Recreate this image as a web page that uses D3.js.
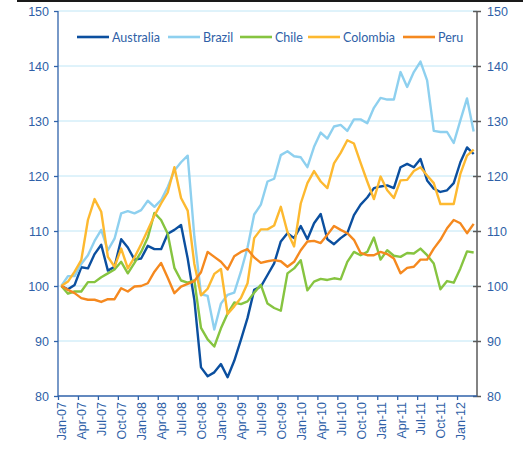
<!DOCTYPE html>
<meta charset="utf-8">
<style>
    body { margin: 0; background: #fff; }
    svg { display: block; font-family: Lato, "Noto Sans", sans-serif; }
    .series { fill: none; stroke-width: 2.4; stroke-linejoin: round; }
    .axis text { fill: #2f5fa7; font-size: 12.5px; }
    .grid line { stroke: #bfe6f6; stroke-width: 1; }
</style>
<body>
<script src="https://cdn.jsdelivr.net/npm/d3@7"></script>
<script>
    // monthly index values, Jan-07 = 100, Jan-07 .. Mar-12
    let australia = [100, 99.4, 100.2, 103.4, 103.2, 105.8, 107.5, 102.8, 103.5, 108.5, 107.0, 104.8, 105.0, 107.3, 106.7, 106.7,
        109.5, 110.2, 111.1, 105, 97.5, 85.2, 83.6, 84.3, 85.8, 83.4, 86.4, 90.2, 94.2, 99.3, 99.9, 102, 104.1, 108.1, 109.6, 108.7,
        110.9, 108.5, 111.4, 113.1, 108.5, 107.6, 108.7, 109.6, 112.9, 114.8, 116.1, 117.8, 118.1, 118.3, 117.8, 121.6, 122.2, 121.6,
        123.1, 119.2, 117.7, 117.1, 117.4, 118.7, 122.5, 125.2, 124];
    let brazil = [100, 101.8, 101.8, 104, 105.6, 108.2, 110.2, 106.5, 108.6, 113.2, 113.6, 113.2, 113.8, 115.5, 114.4, 115.6,
        118, 121, 122.5, 123.7, 109, 98.5, 98.2, 92.1, 96.8, 98.4, 98.8, 102.6, 107, 113, 114.8, 119, 119.5, 123.8, 124.5, 123.6,
        123.4, 121.6, 125.3, 127.9, 126.8, 129, 129.3, 128.2, 130.3, 130.3, 129.6, 132.4, 134.2, 133.9, 133.9, 138.9, 136.2, 138.9,
        140.8, 137.4, 128.2, 128, 128, 126, 130.1, 134.1, 128.1];
    let chile = [100, 98.6, 99, 99, 100.7, 100.7, 101.6, 102.3, 103, 104.4, 102.3, 104.2, 106.2, 108.8, 113.3, 112,
        109.5, 103.3, 101, 100.6, 101, 92.4, 90.3, 89, 92.3, 95, 97, 96.7, 97.2, 98.8, 100.2, 96.8, 96, 95.5, 102.3, 103.2,
        104.7, 99.2, 100.8, 101.3, 101.1, 101.4, 101.2, 104.4, 106.2, 105.6, 106.2, 108.8, 104.8, 106.5, 105.5, 105.3, 106, 105.9,
        106.8, 105.6, 104.1, 99.4, 100.9, 100.6, 103.2, 106.3, 106.1];
    let colombia = [100, 100.8, 102.6, 104.7, 112, 115.8, 113.5, 105.3, 103.5, 106.8, 103.2, 105.2, 107.6, 110.2, 112.8, 115,
        117, 121.6, 116, 113.7, 104, 98.3, 99.5, 102.2, 103.1, 94.9, 96.3, 97.8, 100.5, 108.7, 110.3, 110.3, 111, 114.4, 109.8, 107.2,
        115, 118.7, 120.9, 119, 117.8, 122.3, 124.2, 126.5, 125.9, 122.4, 119, 115.8, 119.9, 117.4, 116, 119.2, 119.3, 120.9,
        121.6, 120.1, 118.7, 114.9, 114.9, 114.9, 120.4, 123.7, 124.8];
    let peru = [100, 99.3, 98.7, 97.8, 97.5, 97.5, 97.1, 97.6, 97.6, 99.6, 99, 99.9, 100, 100.5, 102.6, 104.2,
        101.5, 98.7, 99.9, 100.4, 100.9, 102.5, 106.2, 105.3, 104.4, 103, 105.4, 106.2, 106.7, 105.2, 104.2, 104.5, 104.7, 104.5, 103.5, 104.4,
        106.5, 108.1, 108.2, 107.8, 109.3, 110.9, 110.2, 109.6, 108.4, 106, 105.6, 105.6, 106.2, 105.8, 105, 102.3, 103.3, 103.5,
        104.8, 104.8, 106.8, 108.4, 110.5, 112, 111.4, 109.6, 111.3];

    let seriesNames = ["Australia", "Brazil", "Chile", "Colombia", "Peru"];
    let seriesColors = ["#0b4f9f", "#8ed0ef", "#86c440", "#fdb930", "#f5891f"];
    let seriesData = [australia, brazil, chile, colombia, peru];

    // one label every third month, starting Jan-07
    let tickLabels = ["Jan-07", "Apr-07", "Jul-07", "Oct-07", "Jan-08", "Apr-08", "Jul-08", "Oct-08", "Jan-09", "Apr-09", "Jul-09",
        "Oct-09", "Jan-10", "Apr-10", "Jul-10", "Oct-10", "Jan-11", "Apr-11", "Jul-11", "Oct-11", "Jan-12"];
    let yTicks = [80, 90, 100, 110, 120, 130, 140, 150];

    let width = 531, height = 457;
    let plotLeft = 58, plotRight = 477, plotTop = 11, plotBottom = 396;
    let nMonths = australia.length;

    let svg = d3.select("body").append("svg")
        .attr("width", width)
        .attr("height", height);

    let xScale = d3.scaleLinear().domain([0, nMonths]).range([plotLeft, plotRight]);
    let yScale = d3.scaleLinear().domain([80, 150]).range([plotBottom, plotTop]);
    let half = (xScale(1) - xScale(0)) / 2;

    // top rule
    svg.append("rect").attr("x", 17).attr("y", 0).attr("width", 506).attr("height", 2).attr("fill", "#1a1a1a");

    // gridlines
    svg.append("g").attr("class", "grid")
        .selectAll("line")
        .data(yTicks.filter(function(d) { return d > 80; }))
        .enter().append("line")
        .attr("x1", plotLeft).attr("x2", plotRight)
        .attr("y1", function(d) { return yScale(d); })
        .attr("y2", function(d) { return yScale(d); });

    // left axis
    let yLeft = svg.append("g").attr("class", "axis")
        .attr("transform", "translate(" + plotLeft + ",0)")
        .call(d3.axisLeft(yScale).tickValues(yTicks).tickSize(4).tickPadding(5));
    yLeft.selectAll("line, path").attr("stroke", "#2f62aa").attr("stroke-width", 1.3);
    yLeft.select(".domain").attr("d", "M0," + plotTop + "V" + plotBottom);

    // right axis, grey with ticks crossing
    let yRight = svg.append("g").attr("class", "axis")
        .attr("transform", "translate(" + plotRight + ",0)")
        .call(d3.axisRight(yScale).tickValues(yTicks).tickSize(4).tickPadding(6));
    yRight.selectAll(".tick line").attr("x1", -4);
    yRight.selectAll("line, path").attr("stroke", "#5a5a5a").attr("stroke-width", 1.5);
    yRight.select(".domain").attr("d", "M0," + plotTop + "V" + plotBottom);

    // bottom axis
    let tickIdx = tickLabels.map(function(d, i) { return i * 3; });
    let xAxis = svg.append("g").attr("class", "axis")
        .attr("transform", "translate(0," + plotBottom + ")")
        .call(d3.axisBottom(xScale).tickValues(tickIdx).tickSize(4)
            .tickFormat(function(d) { return tickLabels[d / 3]; }));
    xAxis.selectAll("line, path").attr("stroke", "#2f62aa").attr("stroke-width", 1.3);
    xAxis.select(".domain").attr("d", "M" + plotLeft + ",0H" + plotRight);
    xAxis.selectAll("text")
        .attr("transform", "translate(" + half + ",0) rotate(-90)")
        .attr("x", -6).attr("y", 0).attr("dy", "0.36em")
        .style("text-anchor", "end");

    // series lines
    let line = d3.line()
        .x(function(d, i) { return xScale(i + 0.5); })
        .y(function(d) { return yScale(d); });

    svg.append("g").selectAll("path")
        .data(seriesData)
        .enter().append("path")
        .attr("class", "series")
        .attr("stroke", function(d, i) { return seriesColors[i]; })
        .attr("d", line);

    // legend
    let legendX = [77, 168, 240, 308, 403];
    let legend = svg.append("g").selectAll("g")
        .data(seriesNames)
        .enter().append("g")
        .attr("transform", function(d, i) { return "translate(" + legendX[i] + ",37)"; });
    legend.append("line")
        .attr("x1", 0).attr("x2", 32)
        .attr("stroke", function(d, i) { return seriesColors[i]; })
        .attr("stroke-width", 2.6);
    legend.append("text")
        .attr("x", 35).attr("dy", "0.36em")
        .attr("fill", "#2f5fa7")
        .style("font-size", "12.5px")
        .text(function(d) { return d; });
</script>
</body>
